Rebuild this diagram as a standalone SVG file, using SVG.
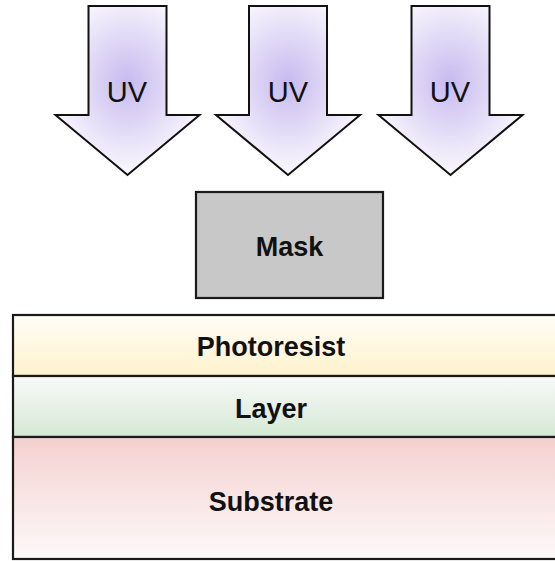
<svg xmlns="http://www.w3.org/2000/svg" width="555" height="561" viewBox="0 0 555 561">
<defs>
<radialGradient id="uvg" cx="0.5" cy="0.45" r="0.6">
<stop offset="0" stop-color="#c7baef"/>
<stop offset="1" stop-color="#ffffff"/>
</radialGradient>
<linearGradient id="pr" x1="0" y1="0" x2="0" y2="1">
<stop offset="0" stop-color="#fffdf7"/>
<stop offset="1" stop-color="#fff2cc"/>
</linearGradient>
<linearGradient id="ly" x1="0" y1="0" x2="0" y2="1">
<stop offset="0" stop-color="#f8faf8"/>
<stop offset="1" stop-color="#d5e8d4"/>
</linearGradient>
<linearGradient id="sb" x1="0" y1="0" x2="0" y2="1">
<stop offset="0" stop-color="#f5d0d0"/>
<stop offset="1" stop-color="#fdf9f9"/>
</linearGradient>
</defs>
<style>
.arrow{fill:url(#uvg);stroke:#111;stroke-width:2;stroke-linejoin:miter}
.box{stroke:#1a1a1a;stroke-width:2.2}
.uv{font-family:"Liberation Sans",Arial,sans-serif;font-size:29px;fill:#111;text-anchor:middle}
.lbl{font-family:"Comic Sans MS","Liberation Sans",sans-serif;font-size:27px;font-weight:bold;fill:#111;text-anchor:middle}
</style>
<g id="uv1">
<polygon class="arrow" points="88.5,6 166.5,6 166.5,115 199.5,115 127.5,175 55.5,115 88.5,115"/>
<text class="uv" x="127" y="102">UV</text>
</g>
<g id="uv2">
<polygon class="arrow" points="249,6 327,6 327,115 360,115 288,175 216,115 249,115"/>
<text class="uv" x="288" y="102">UV</text>
</g>
<g id="uv3">
<polygon class="arrow" points="411.5,6 489.5,6 489.5,115 522.5,115 450.5,175 378.5,115 411.5,115"/>
<text class="uv" x="450" y="102">UV</text>
</g>
<g id="mask">
<rect class="box" x="196" y="192" width="187" height="106" fill="#c8c8c8"/>
<text class="lbl" x="289.5" y="256">Mask</text>
</g>
<g id="photoresist">
<rect class="box" x="13" y="315" width="560" height="61" fill="url(#pr)"/>
<text class="lbl" x="271" y="356">Photoresist</text>
</g>
<g id="layer">
<rect class="box" x="13" y="376" width="560" height="61" fill="url(#ly)"/>
<text class="lbl" x="271" y="418">Layer</text>
</g>
<g id="substrate">
<rect class="box" x="13" y="437" width="560" height="122" fill="url(#sb)"/>
<text class="lbl" x="271" y="511">Substrate</text>
</g>
<g id="connectors"></g>
</svg>
